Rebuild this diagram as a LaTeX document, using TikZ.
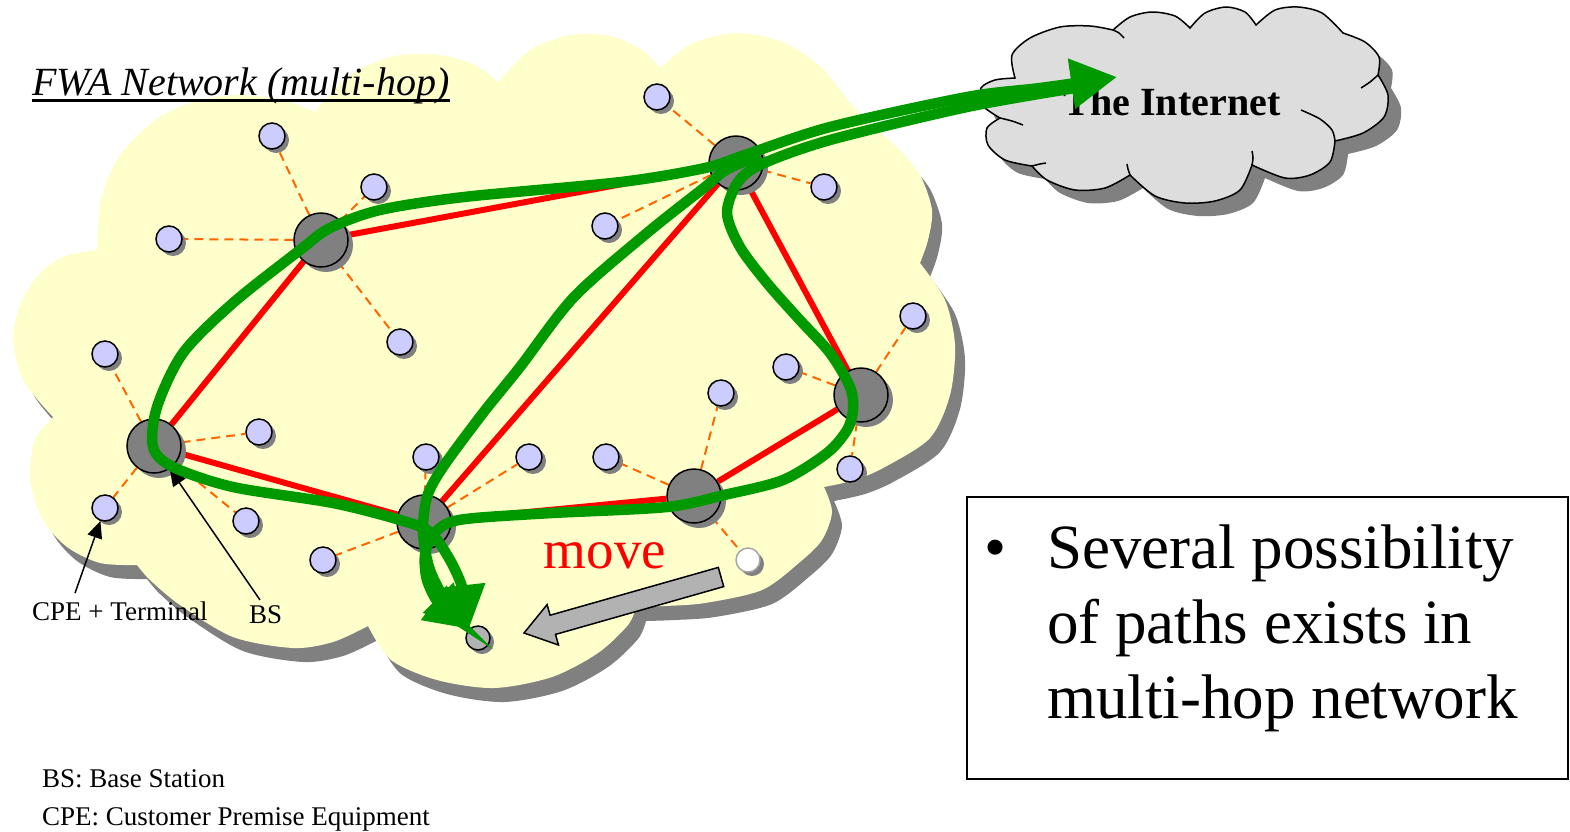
\documentclass[tikz,border=0pt]{standalone}
\usepackage{fontspec}
\setmainfont{Liberation Serif}
\usetikzlibrary{arrows.meta,shadows}
\pgfdeclarelayer{bg}
\pgfdeclarelayer{wires}
\pgfdeclarelayer{top}
\pgfsetlayers{bg,wires,main,top}

\definecolor{cloudyellow}{HTML}{FFFFCC}
\definecolor{shadowgrey}{HTML}{808080}
\definecolor{bsgrey}{HTML}{808080}
\definecolor{cpeblue}{HTML}{CCCCFF}
\definecolor{radioorange}{HTML}{FF6600}
\definecolor{pathgreen}{HTML}{009900}
\definecolor{inetgrey}{HTML}{DDDDDD}
\definecolor{movegrey}{HTML}{B2B2B2}

% outline of the FWA cloud, one smooth plot per lobe
\newcommand\fwacloud{(97,250)
  -- plot[smooth] coordinates {(97,250) (101,200) (120,155) (158,118) (200,100) (240,95) (283,100) (315,112)}
  -- plot[smooth] coordinates {(315,112) (350,75) (395,56) (440,55) (475,65) (498,82)}
  -- plot[smooth] coordinates {(498,82) (530,50) (570,35) (610,36) (642,50) (660,68)}
  -- plot[smooth] coordinates {(660,68) (693,43) (739,33) (785,43) (822,68) (852,105) (878,130) (898,148)}
  -- plot[smooth] coordinates {(898,148) (920,175) (932,210) (928,240) (920,263)}
  -- plot[smooth] coordinates {(920,263) (945,300) (955,345) (950,395) (930,438) (885,467) (855,480) (824,487)}
  -- plot[smooth] coordinates {(824,487) (832,512) (822,540) (800,562) (762,590) (705,603) (665,606) (636,607)}
  -- plot[smooth] coordinates {(636,607) (628,625) (598,653) (552,677) (494,688) (437,680) (391,660) (368,626)}
  -- plot[smooth] coordinates {(368,626) (333,642) (293,648) (233,637) (180,605) (150,580) (137,565)}
  -- plot[smooth] coordinates {(137,565) (100,563) (67,547) (43,520) (30,480) (35,440) (53,417)}
  -- plot[smooth] coordinates {(53,417) (23,380) (13,337) (22,300) (40,273) (65,256) (97,250)}
  -- cycle}

% outline of the Internet cloud
\newcommand\inetcloud{(1015,78)
  -- plot[smooth] coordinates {(1015,78) (1012,55) (1030,38) (1060,27) (1090,26) (1113,30)}
  -- plot[smooth] coordinates {(1113,30) (1130,17) (1152,12) (1175,16) (1190,28)}
  -- plot[smooth] coordinates {(1190,28) (1205,13) (1226,7) (1245,12) (1256,25)}
  -- plot[smooth] coordinates {(1256,25) (1275,10) (1298,7) (1322,13) (1343,33)}
  -- plot[smooth] coordinates {(1343,33) (1365,42) (1379,57) (1378,75)}
  -- plot[smooth] coordinates {(1378,75) (1388,95) (1384,117) (1363,133) (1335,141)}
  -- plot[smooth] coordinates {(1335,141) (1330,162) (1310,175) (1285,178) (1252,165)}
  -- plot[smooth] coordinates {(1252,165) (1240,190) (1215,201) (1185,203) (1155,196) (1130,175)}
  -- plot[smooth] coordinates {(1130,175) (1105,188) (1075,190) (1047,180) (1032,166)}
  -- plot[smooth] coordinates {(1032,166) (1005,160) (988,145) (987,128) (1000,118)}
  -- plot[smooth] coordinates {(1000,118) (982,105) (981,88) (995,80) (1015,78)}
  -- cycle}

\begin{document}
\begin{tikzpicture}[x=1pt,y=-1pt,
  bs/.style={circle,draw=black,line width=1.5pt,fill=bsgrey,minimum size=54pt,inner sep=0pt,
    drop shadow={shadow xshift=5pt,shadow yshift=-5pt,fill=shadowgrey,opacity=1}},
  cpe/.style={circle,draw=black,line width=1.5pt,fill=cpeblue,minimum size=26pt,inner sep=0pt,
    drop shadow={shadow xshift=4pt,shadow yshift=-4pt,fill=shadowgrey,opacity=1}},
  link/.style={draw=red,line width=6pt},
  radio/.style={draw=radioorange,line width=2pt,dash pattern=on 9pt off 6pt},
  gpath/.style={draw=pathgreen,line width=10.5pt},
  gtip/.style={-{Triangle[length=44pt,width=40pt]}},
  pointer/.style={draw=black,line width=1.5pt,-{Triangle[length=17pt,width=15pt]}},
  smalltxt/.style={font=\fontsize{27}{32}\selectfont,inner sep=0pt},
  bigtxt/.style={font=\fontsize{63}{75}\selectfont,inner sep=0pt}]
\useasboundingbox (0,0) rectangle (1570,831);

\begin{pgfonlayer}{bg}
\fill[shadowgrey,shift={(10,14)}] \fwacloud;
\fill[cloudyellow] \fwacloud;
\fill[shadowgrey,shift={(13,13)}] \inetcloud;
\filldraw[fill=inetgrey,draw=black,line width=1.5pt] \inetcloud;
\draw[line width=1.5pt] plot[smooth] coordinates {(1000,118) (1012,121) (1023,125)};
\draw[line width=1.5pt] plot[smooth] coordinates {(1113,30) (1119,33) (1124,38)};
\draw[line width=1.5pt] plot[smooth] coordinates {(1378,75) (1370,82) (1361,88)};
\draw[line width=1.5pt] plot[smooth] coordinates {(1301,110) (1320,119) (1332,130) (1335,141)};
\draw[line width=1.5pt] plot[smooth] coordinates {(1032,166) (1040,164) (1046,163)};
\draw[line width=1.5pt] plot[smooth] coordinates {(1130,175) (1128,169) (1127,164)};
\draw[line width=1.5pt] plot[smooth] coordinates {(1252,165) (1253,158) (1252,151)};
\end{pgfonlayer}

% base stations
\node[bs] (bs1) at (321,240) {};
\node[bs] (bs2) at (736,163) {};
\node[bs] (bs3) at (154,446) {};
\node[bs] (bs4) at (424,522) {};
\node[bs] (bs5) at (861,395) {};
\node[bs] (bs6) at (694,496) {};

% terminals
\node[cpe] (cpe1a) at (272,136) {};
\node[cpe] (cpe1b) at (374,187) {};
\node[cpe] (cpe1c) at (169,239) {};
\node[cpe] (cpe1d) at (400,342) {};
\node[cpe] (cpe2a) at (657,97) {};
\node[cpe] (cpe2b) at (605,226) {};
\node[cpe] (cpe2c) at (824,187) {};
\node[cpe] (cpe3a) at (105,354) {};
\node[cpe] (cpe3b) at (259,432) {};
\node[cpe] (cpe3c) at (105,508) {};
\node[cpe] (cpe3d) at (246,521) {};
\node[cpe] (cpe4a) at (426,457) {};
\node[cpe] (cpe4b) at (529,457) {};
\node[cpe] (cpe4c) at (323,560) {};
\node[cpe] (cpe5a) at (786,367) {};
\node[cpe] (cpe5b) at (913,316) {};
\node[cpe] (cpe5c) at (850,469) {};
\node[cpe] (cpe6a) at (606,457) {};
\node[cpe] (cpe6b) at (721,393) {};
\node[cpe,fill=white,draw=black!35,minimum size=24pt] (mob) at (748,560) {};
\node[cpe,fill=movegrey,minimum size=24pt] (dest) at (478,638) {};

\begin{pgfonlayer}{wires}
\draw[radio] (bs1) -- (cpe1a);
\draw[radio] (bs1) -- (cpe1b);
\draw[radio] (bs1) -- (cpe1c);
\draw[radio] (bs1) -- (cpe1d);
\draw[radio] (bs2) -- (cpe2a);
\draw[radio] (bs2) -- (cpe2b);
\draw[radio] (bs2) -- (cpe2c);
\draw[radio] (bs3) -- (cpe3a);
\draw[radio] (bs3) -- (cpe3b);
\draw[radio] (bs3) -- (cpe3c);
\draw[radio] (bs3) -- (cpe3d);
\draw[radio] (bs4) -- (cpe4a);
\draw[radio] (bs4) -- (cpe4b);
\draw[radio] (bs4) -- (cpe4c);
\draw[radio] (bs5) -- (cpe5a);
\draw[radio] (bs5) -- (cpe5b);
\draw[radio] (bs5) -- (cpe5c);
\draw[radio] (bs6) -- (cpe6a);
\draw[radio] (bs6) -- (cpe6b);
\draw[radio] (bs6) -- (mob);

\draw[link] (bs1) -- (bs2);
\draw[link] (bs1) -- (bs3);
\draw[link] (bs2) -- (bs4);
\draw[link] (bs2) -- (bs5);
\draw[link] (bs3) -- (bs4);
\draw[link] (bs4) -- (bs6);
\draw[link] (bs6) -- (bs5);
\end{pgfonlayer}

\node[font=\bfseries\fontsize{40}{48}\selectfont,anchor=base,inner sep=0pt] (inettxt) at (1172,115) {The Internet};
\coordinate (inet) at (1117,77);

% candidate paths
\begin{pgfonlayer}{top}
\draw[gpath,{Triangle[length=46pt,width=48pt]}-{Triangle[length=44pt,width=40pt]}] plot[smooth] coordinates {(inet) (1040,88) (967,97) (830,127) (745,155) (705,168) (621,182) (464,197) (380,210) (330,228) (300,250) (233,303) (183,353) (157,407) (153,447) (173,467) (233,487) (333,503) (400,520) (430,532) (450,560) (463,590) (dest.north west)};
\draw[gpath,gtip] plot[smooth] coordinates {(760,155) (726,170) (705,187) (647,233) (574,297) (520,367) (483,413) (443,467) (427,497) (423,533) (430,570) (448,605) (dest.north west)};
\draw[gpath,gtip] plot[smooth] coordinates {(1075,88) (967,107) (830,140) (762,164) (738,182) (727,213) (740,247) (767,283) (798,318) (830,353) (850,387) (853,410) (847,430) (827,453) (783,480) (724,495) (667,507) (552,513) (475,518) (448,523) (433,535) (425,555) (427,580) (440,605) (dest.north west)};
\end{pgfonlayer}

\filldraw[fill=movegrey,draw=black,line width=1.5pt] (718.3,567.4) -- (550.1,615.2) -- (547.1,604.6) -- (524,633) -- (558.5,645) -- (555.5,634.4) -- (723.7,586.6) -- cycle;
\node[font=\fontsize{55}{60}\selectfont,text=red,anchor=base,inner sep=0pt] (movetxt) at (605,568) {move};

\node[font=\itshape\fontsize{40}{48}\selectfont,anchor=base west,inner sep=0pt] (title) at (32,95) {FWA Network (multi-hop)};
\draw[line width=3pt] ([yshift=-5pt]title.base west) -- ([yshift=-5pt]title.base east);

\node[smalltxt,anchor=base west] (lblcpe) at (32,620) {CPE + Terminal};
\node[smalltxt,anchor=base west] (lblbs) at (249,623) {BS};
\draw[pointer] ([xshift=43pt,yshift=8pt]lblcpe.north west) -- (cpe3c);
\draw[pointer] ([xshift=11pt,yshift=5pt]lblbs.north west) -- (bs3);

\node[smalltxt,anchor=base west] (legbs) at (42,787) {BS: Base Station};
\node[smalltxt,anchor=base west] (legcpe) at (42,825) {CPE: Customer Premise Equipment};

\node[draw=black,line width=1.5pt,minimum width=601pt,minimum height=282pt,anchor=north west] (notebox) at (966,496) {};
\node[bigtxt,anchor=base] (bullet) at (996,568) {•};
\node[bigtxt,anchor=base west,align=left] (notetxt) at (1047,718) {Several possibility\\of paths exists in\\multi-hop network};
\end{tikzpicture}
\end{document}
